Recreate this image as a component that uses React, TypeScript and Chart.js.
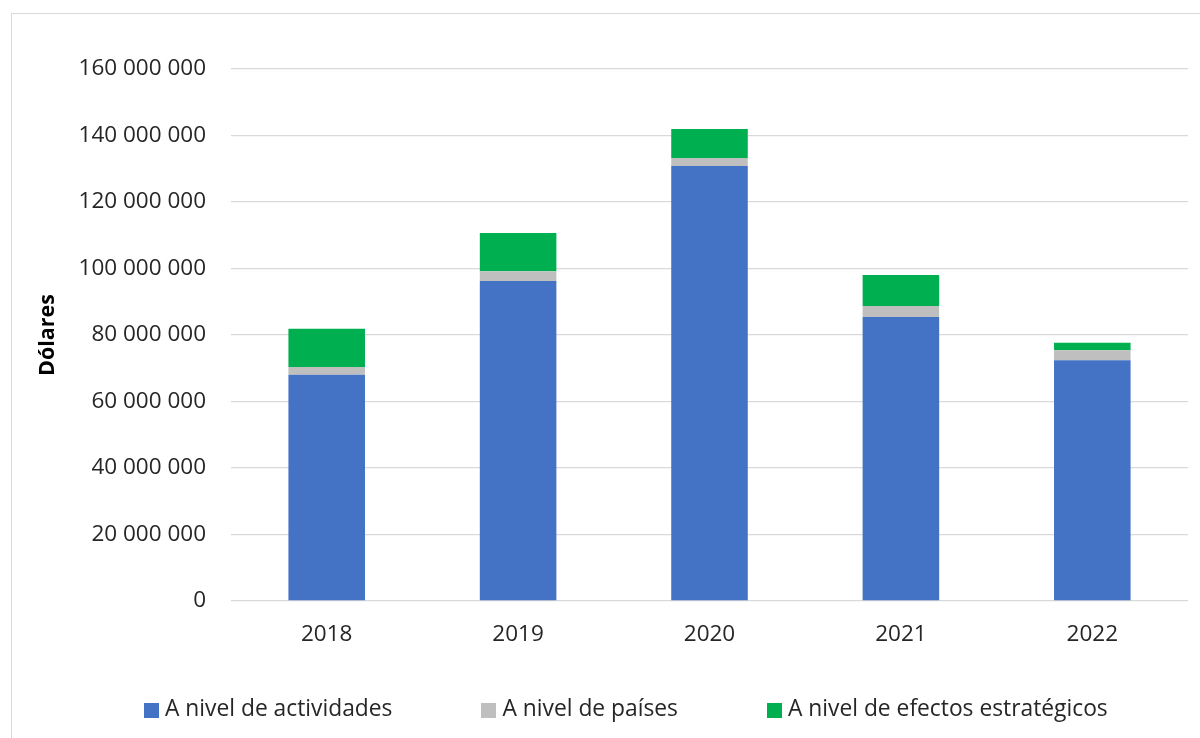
import React, { useEffect, useRef } from "react";
import { Chart, registerables } from "chart.js";

Chart.register(...registerables);

const years = ["2018", "2019", "2020", "2021", "2022"];
const actividades = [68060000, 96240000, 130830000, 85410000, 72390000];
const paises = [2320000, 2920000, 2400000, 3310000, 3000000];
const efectos = [11520000, 11520000, 8720000, 9330000, 2280000];
const seriesNames = ["A nivel de actividades", "A nivel de países", "A nivel de efectos estratégicos"];
const seriesColors = ["#4472C4", "#BFBFBF", "#00B050"];
const yTicks = { min: 0, max: 160000000, step: 20000000 };
const yTitle = "Dólares";

const FONT = "'Open Sans', 'Noto Sans', sans-serif";
const TEXT = "#262626";

function fmt(v: number): string {
  return String(Math.round(v)).replace(/\B(?=(\d{3})+(?!\d))/g, " ");
}

export default function App() {
  const ref = useRef<HTMLCanvasElement | null>(null);

  useEffect(() => {
    if (!ref.current) return;
    const values = [actividades, paises, efectos];
    const chart = new Chart(ref.current, {
      type: "bar",
      data: {
        labels: years,
        datasets: seriesNames.map((name, i) => ({
          label: name,
          data: values[i],
          backgroundColor: seriesColors[i],
          borderWidth: 0,
          barPercentage: 0.4,
          categoryPercentage: 1,
        })),
      },
      options: {
        animation: false,
        responsive: false,
        maintainAspectRatio: false,
        layout: { padding: { left: 30, top: 69, right: 12, bottom: 77 } },
        plugins: {
          legend: { display: false },
          tooltip: { enabled: false },
        },
        scales: {
          x: {
            stacked: true,
            grid: { display: false, drawTicks: false },
            border: { display: false },
            ticks: {
              padding: 20,
              color: TEXT,
              font: { family: FONT, size: 22.5 },
            },
            afterFit: (s: any) => {
              s.height = 60;
            },
          },
          y: {
            stacked: true,
            min: yTicks.min,
            max: yTicks.max,
            grid: { color: "#d9d9d9", lineWidth: 1.3, drawTicks: false },
            border: { display: false },
            ticks: {
              stepSize: yTicks.step,
              padding: 25,
              color: TEXT,
              font: { family: FONT, size: 22.5 },
              callback: (v: any) => fmt(Number(v)),
            },
            title: {
              display: true,
              text: yTitle,
              color: "#000",
              font: { family: FONT, size: 21.5, weight: "bold" },
              padding: { top: 5, bottom: 0 },
            },
            afterFit: (s: any) => {
              s.width = 201;
            },
          },
        },
      },
    });
    return () => chart.destroy();
  }, []);

  const legendItem = (name: string, color: string) => (
    <div key={name} style={{ display: "flex", alignItems: "flex-start" }}>
      <div style={{ width: 15, height: 15, background: color, marginTop: 6, marginRight: 6 }} />
      <span style={{ fontFamily: FONT, fontSize: 22.8, lineHeight: "22px", color: TEXT, whiteSpace: "nowrap" }}>
        {name}
      </span>
    </div>
  );

  return (
    <div
      style={{
        position: "fixed",
        left: 0,
        top: 0,
        width: 1200,
        height: 738,
        overflow: "hidden",
        background: "#fff",
      }}
    >
      <div
        style={{
          position: "absolute",
          left: 11,
          top: 13,
          width: 1300,
          height: 1000,
          border: "1px solid #d9d9d9",
          boxSizing: "border-box",
        }}
      />
      <canvas ref={ref} width={1200} height={738} style={{ position: "absolute", left: 0, top: 0 }} />
      <div
        style={{
          position: "absolute",
          left: 144,
          top: 697,
          display: "flex",
          gap: 89,
        }}
      >
        {seriesNames.map((n, i) => legendItem(n, seriesColors[i]))}
      </div>
    </div>
  );
}
